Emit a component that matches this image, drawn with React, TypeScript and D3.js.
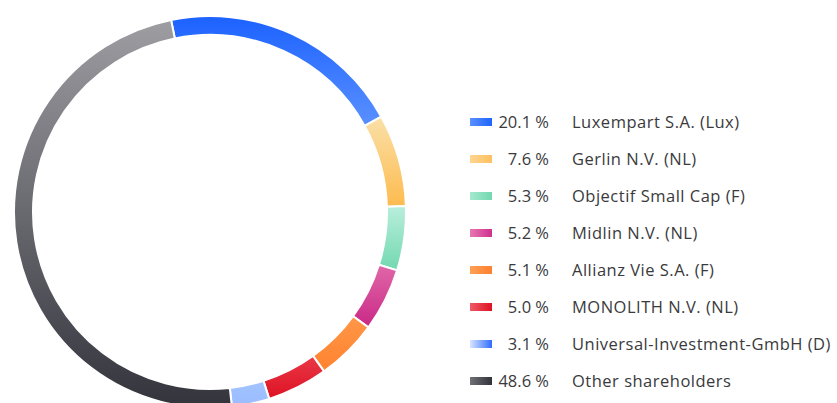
import React from "react";
import * as d3 from "d3";

const names = [
  "Luxempart S.A. (Lux)",
  "Gerlin N.V. (NL)",
  "Objectif Small Cap (F)",
  "Midlin N.V. (NL)",
  "Allianz Vie S.A. (F)",
  "MONOLITH N.V. (NL)",
  "Universal-Investment-GmbH (D)",
  "Other shareholders",
];
const shares = [20.1, 7.6, 5.3, 5.2, 5.1, 5.0, 3.1, 48.6];
const shareLabels = ["20.1 %", "7.6 %", "5.3 %", "5.2 %", "5.1 %", "5.0 %", "3.1 %", "48.6 %"];
// ring gradient: top colour, bottom colour
const ringTop = ["#1c62ff", "#fae0a8", "#b9eedc", "#e068a8", "#ff9747", "#e93848", "#a3c3ff", "#9d9da2"];
const ringBottom = ["#5a90ff", "#fdbb4f", "#72d8b0", "#c92886", "#ff8230", "#de1222", "#9abcff", "#33333c"];
// legend swatch gradient: left colour, right colour
const swLeft = ["#5a8fff", "#fdd590", "#a6e8cf", "#e577b2", "#ffa055", "#f05a66", "#d8e5ff", "#707077"];
const swRight = ["#1e64ff", "#fdc060", "#72d8b0", "#d0308e", "#ff8030", "#de1222", "#2e6cff", "#32323a"];

export default function App() {
  const W = 837, H = 403;
  const cx = 210, cy = 212;
  const outer = 196, inner = 177;
  const start = -0.2;
  const pie = d3.pie<number>().sort(null).value((d) => d).startAngle(start).endAngle(start + Math.PI * 2);
  const arcs = pie(shares);
  const arc = d3.arc<d3.PieArcDatum<number>>().innerRadius(inner).outerRadius(outer);

  const rowY = d3.scaleLinear().domain([0, 7]).range([122, 381]);
  const font = "'Open Sans', 'Noto Sans', sans-serif";

  return (
    <svg width={W} height={H} style={{ position: "absolute", left: 0, top: 0, display: "block", background: "#fff" }}>
      <defs>
        {shares.map((_, i) => (
          <linearGradient key={"r" + i} id={"rg" + i} x1="0" y1="0" x2="0" y2="1">
            <stop offset="0" stopColor={ringTop[i]} />
            <stop offset="1" stopColor={ringBottom[i]} />
          </linearGradient>
        ))}
        {shares.map((_, i) => (
          <linearGradient key={"s" + i} id={"sg" + i} x1="0" y1="0" x2="1" y2="0">
            <stop offset="0" stopColor={swLeft[i]} />
            <stop offset="1" stopColor={swRight[i]} />
          </linearGradient>
        ))}
      </defs>
      <g transform={`translate(${cx},${cy})`}>
        {arcs.map((a, i) => (
          <path key={i} d={arc(a) || ""} fill={`url(#rg${i})`} stroke="#fff" strokeWidth={2} />
        ))}
      </g>
      <g fontFamily={font} fontSize={16.5} fill="#3a3a3c">
        {names.map((n, i) => {
          const y = rowY(i);
          return (
            <g key={i}>
              <rect x={470} y={y - 4} width={22} height={8} fill={`url(#sg${i})`} />
              <text x={549} y={y + 5.5} textAnchor="end">{shareLabels[i]}</text>
              <text x={572} y={y + 5.5} letterSpacing={0.5}>{n}</text>
            </g>
          );
        })}
      </g>
    </svg>
  );
}
